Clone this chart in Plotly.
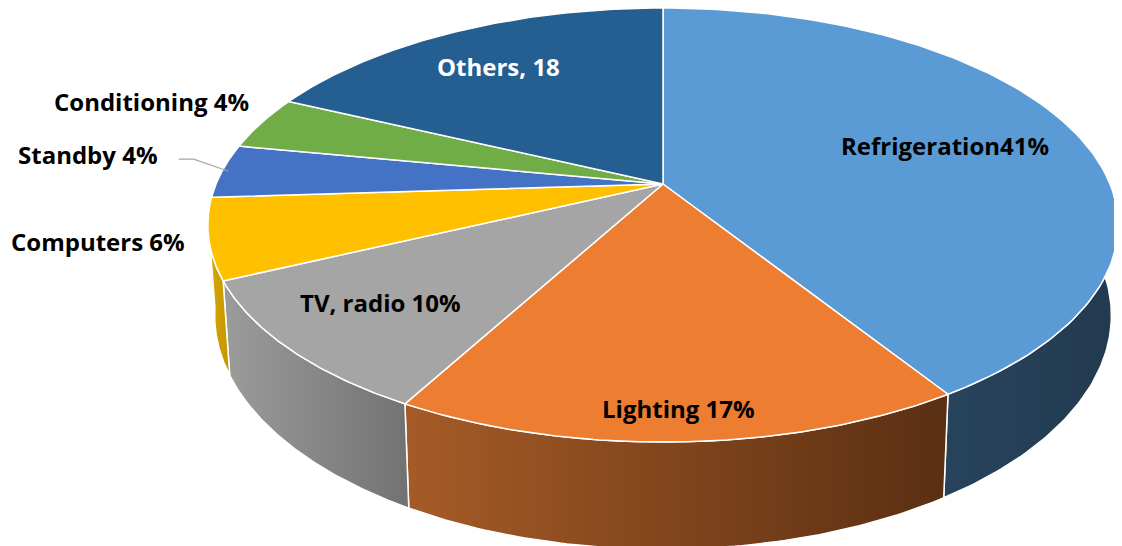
import numpy as np
import plotly.graph_objects as go

# ---- data ----
categories = ["Refrigeration", "Lighting", "TV, radio", "Computers", "Standby", "Conditioning", "Others"]
values = [41, 17, 10, 6, 4, 4, 18]
label_texts = ["Refrigeration41%", "Lighting 17%", "TV, radio 10%", "Computers 6%",
               "Standby 4%", "Conditioning 4%", "Others, 18"]

# ---- style ----
top_colors = ["#5B9BD5", "#ED7D31", "#A5A5A5", "#FFC000", "#4472C4", "#70AD47", "#255E91"]
wall_grad = [("#27445C", "#223A50"), ("#A65B27", "#5A2F12"), ("#9C9C9C", "#727272"),
             ("#D9A800", "#C49600"), ("#3A62A8", "#2F5190"), ("#5E9440", "#507E36"),
             ("#1F4F7A", "#1A4368")]
label_colors = ["#000000"] * 6 + ["#FFFFFF"]

W, H = 1122, 546
OFF = 8                 # page body margin compensation
CX, CY = 663, 184       # apex of the pie on screen
A, B = 447, 209.3       # projected radii
K = 0.189               # perspective strength
DEPTH = 87              # wall thickness
SX = 0.985              # bottom shrink
WALL_FROM, WALL_TO = 90.0, 261.0   # visible side-wall angular range

def proj(theta_deg, r=1.0, bottom=False):
    t = np.radians(theta_deg)
    X = r * np.sin(t)
    Y = -r * np.cos(t)
    w = 1 - K * Y
    u = CX + A * X / w
    v = CY + B * Y / w
    if bottom:
        u = CX + (u - CX) * SX
        v = v + DEPTH / w
    return u, v

total = sum(values)
bounds = np.concatenate([[0], np.cumsum(values) / total * 360.0])

fig = go.Figure()

# side walls (visible front half)
for i in range(len(values)):
    a0, a1 = max(bounds[i], WALL_FROM), min(bounds[i + 1], WALL_TO)
    if a1 <= a0:
        continue
    ts = np.linspace(a0, a1, 80)
    tu, tv = proj(ts)
    bu, bv = proj(ts[::-1], bottom=True)
    xs = np.concatenate([tu, bu, tu[:1]])
    ys = np.concatenate([tv, bv, tv[:1]])
    c1, c2 = wall_grad[i]
    fig.add_trace(go.Scatter(
        x=xs, y=ys, mode="lines", fill="toself",
        line=dict(color="white", width=1.5),
        fillgradient=dict(type="horizontal", colorscale=[[0, c1], [1, c2]]),
        hoverinfo="skip", showlegend=False))

# top faces
for i in range(len(values)):
    ts = np.linspace(bounds[i], bounds[i + 1], 120)
    au, av = proj(ts)
    xs = np.concatenate([[CX], au, [CX]])
    ys = np.concatenate([[CY], av, [CY]])
    fig.add_trace(go.Scatter(
        x=xs, y=ys, mode="lines", fill="toself", fillcolor=top_colors[i],
        line=dict(color="white", width=1.5),
        hoverinfo="skip", showlegend=False))

mids = (bounds[:-1] + bounds[1:]) / 2
font = dict(family="Open Sans", size=24, weight="bold")

# inside labels: (radius factor, vertical nudge)
inside = {0: (0.68, 0), 1: (0.92, 8), 2: (0.78, 6), 6: (0.77, -4)}
for i, (r, dy) in inside.items():
    u, v = proj(mids[i], r)
    fig.add_annotation(x=u, y=v, text=label_texts[i], showarrow=False, yshift=dy,
                       font=dict(font, color=label_colors[i]))

# outside labels: right-anchored near the slice edge
outside = {3: (-22, -3), 4: (-62, 17), 5: (-10, 21)}
for i, (dx, dy) in outside.items():
    u, v = proj(mids[i], 1.0)
    fig.add_annotation(x=u, y=v, text=label_texts[i], showarrow=False,
                       xanchor="right", xshift=dx, yshift=dy,
                       font=dict(font, color=label_colors[i]))

# leader line for Standby
u0, v0 = proj(mids[4], 0.985)
fig.add_trace(go.Scatter(
    x=[u0, u0 - 35, u0 - 50], y=[v0, v0 - 12, v0 - 12], mode="lines",
    line=dict(color="#A6A6A6", width=1.2), hoverinfo="skip", showlegend=False))

fig.update_layout(
    width=W, height=H, margin=dict(l=0, r=0, t=0, b=0),
    paper_bgcolor="white", plot_bgcolor="white",
    xaxis=dict(range=[OFF, W + OFF], visible=False, fixedrange=True),
    yaxis=dict(range=[H + OFF, OFF], visible=False, fixedrange=True),
)
fig.write_html("out.html")
